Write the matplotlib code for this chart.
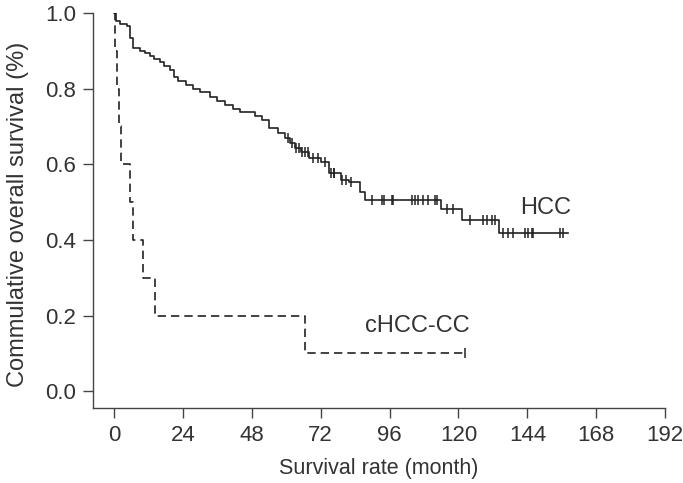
import numpy as np
import matplotlib
matplotlib.use("Agg")
import matplotlib.pyplot as plt

plt.rcParams['font.family'] = ['Liberation Sans', 'DejaVu Sans']

# HCC: event times (months) and survival after each step
hcc_t = [0, 0.6, 2.0, 4.5, 5.5, 6.6, 9.0, 11.0, 12.5, 14.0, 16.0, 17.5, 19.5, 21.0, 22.5,
         25.0, 27.5, 30.0, 33.4, 36.0, 38.7, 41.5, 44.0, 49.0, 51.6, 54.0, 57.0, 59.6,
         61.5, 63.0, 65.0, 68.0, 72.0, 75.0, 79.0, 82.0, 85.7, 87.5, 113.8, 121.2, 134.1]
hcc_s = [1.0, 0.978, 0.972, 0.965, 0.935, 0.907, 0.900, 0.893, 0.886, 0.878, 0.870, 0.860,
         0.850, 0.830, 0.820, 0.810, 0.800, 0.790, 0.778, 0.768, 0.757, 0.747, 0.738, 0.727,
         0.717, 0.696, 0.683, 0.670, 0.656, 0.643, 0.632, 0.616, 0.606, 0.577, 0.558, 0.553,
         0.526, 0.505, 0.481, 0.452, 0.418]
hcc_end = 158.2
hcc_cens = [60.5, 62.0, 63.5, 64.5, 65.5, 66.5, 67.5, 69.5, 71.0, 73.5, 75.5, 76.5,
            76.8, 79.5, 81.0, 82.5, 90.0, 93.5, 93.9, 96.9, 97.3, 103.8, 104.9, 105.9,
            107.6, 109.4, 111.8, 112.5, 116.0, 118.1, 124.0, 128.5, 129.9, 131.7, 132.8,
            135.5, 137.3, 139.0, 143.2, 144.3, 145.7, 146.0, 155.4, 156.4]

# cHCC-CC
chcc_t = [0, 0.3, 1.0, 1.8, 2.6, 5.6, 6.6, 10.2, 14.3, 66.5]
chcc_s = [1.0, 0.9, 0.8, 0.7, 0.6, 0.5, 0.4, 0.3, 0.2, 0.1]
chcc_end = 122.3
chcc_cens = [122.3]

x_ticks = [0, 24, 48, 72, 96, 120, 144, 168, 192]
y_ticks = [0.0, 0.2, 0.4, 0.6, 0.8, 1.0]

fig = plt.figure(figsize=(6.83, 4.83), dpi=100)
ax = fig.add_axes([0.136, 0.155, 0.838, 0.818])

col = '#222222'
tcol = '#333333'


def step_xy(t, s, end):
    return list(t) + [end], list(s) + [s[-1]]


def surv_at(t, s, x):
    idx = np.searchsorted(t, x, side='right') - 1
    return np.array(s)[idx]


x, y = step_xy(hcc_t, hcc_s, hcc_end)
ax.step(x, y, where='post', color=col, lw=1.2)
ax.plot(hcc_cens, surv_at(hcc_t, hcc_s, hcc_cens), ls='none', marker='|',
        ms=7, mew=1.1, color=col)

x, y = step_xy(chcc_t, chcc_s, chcc_end)
ax.step(x, y, where='post', color=col, lw=1.2, ls=(0, (5, 3)))
ax.plot(chcc_cens, surv_at(chcc_t, chcc_s, chcc_cens), ls='none', marker='|',
        ms=7, mew=1.1, color=col)

ax.text(150.2, 0.484, 'HCC', fontsize=17, color=tcol, ha='center', va='center')
ax.text(105.6, 0.172, 'cHCC-CC', fontsize=17, color=tcol, ha='center', va='center')

ax.set_xlim(-7.3, 192)
ax.set_ylim(-0.045, 1.0)
ax.set_xticks(x_ticks)
ax.set_yticks(y_ticks)
ax.set_yticklabels([f'{v:.1f}' for v in y_ticks])
ax.spines['top'].set_visible(False)
ax.spines['right'].set_visible(False)
ax.spines['left'].set_bounds(-0.045, 1.0)
ax.spines['bottom'].set_bounds(-7.3, 192)
for sp in ['left', 'bottom']:
    ax.spines[sp].set_color('#444444')
    ax.spines[sp].set_linewidth(1.0)
ax.tick_params(direction='out', length=7, width=1.0, color='#444444',
               labelsize=16, labelcolor=tcol, pad=5)
ax.set_xlabel('Survival rate (month)', fontsize=15.5, color=tcol, labelpad=9)
ax.set_ylabel('Commulative overall survival (%)', fontsize=17, color=tcol, labelpad=8)
ax.yaxis.set_label_coords(-0.112, 0.49)

fig.savefig('out.png', dpi=100)
